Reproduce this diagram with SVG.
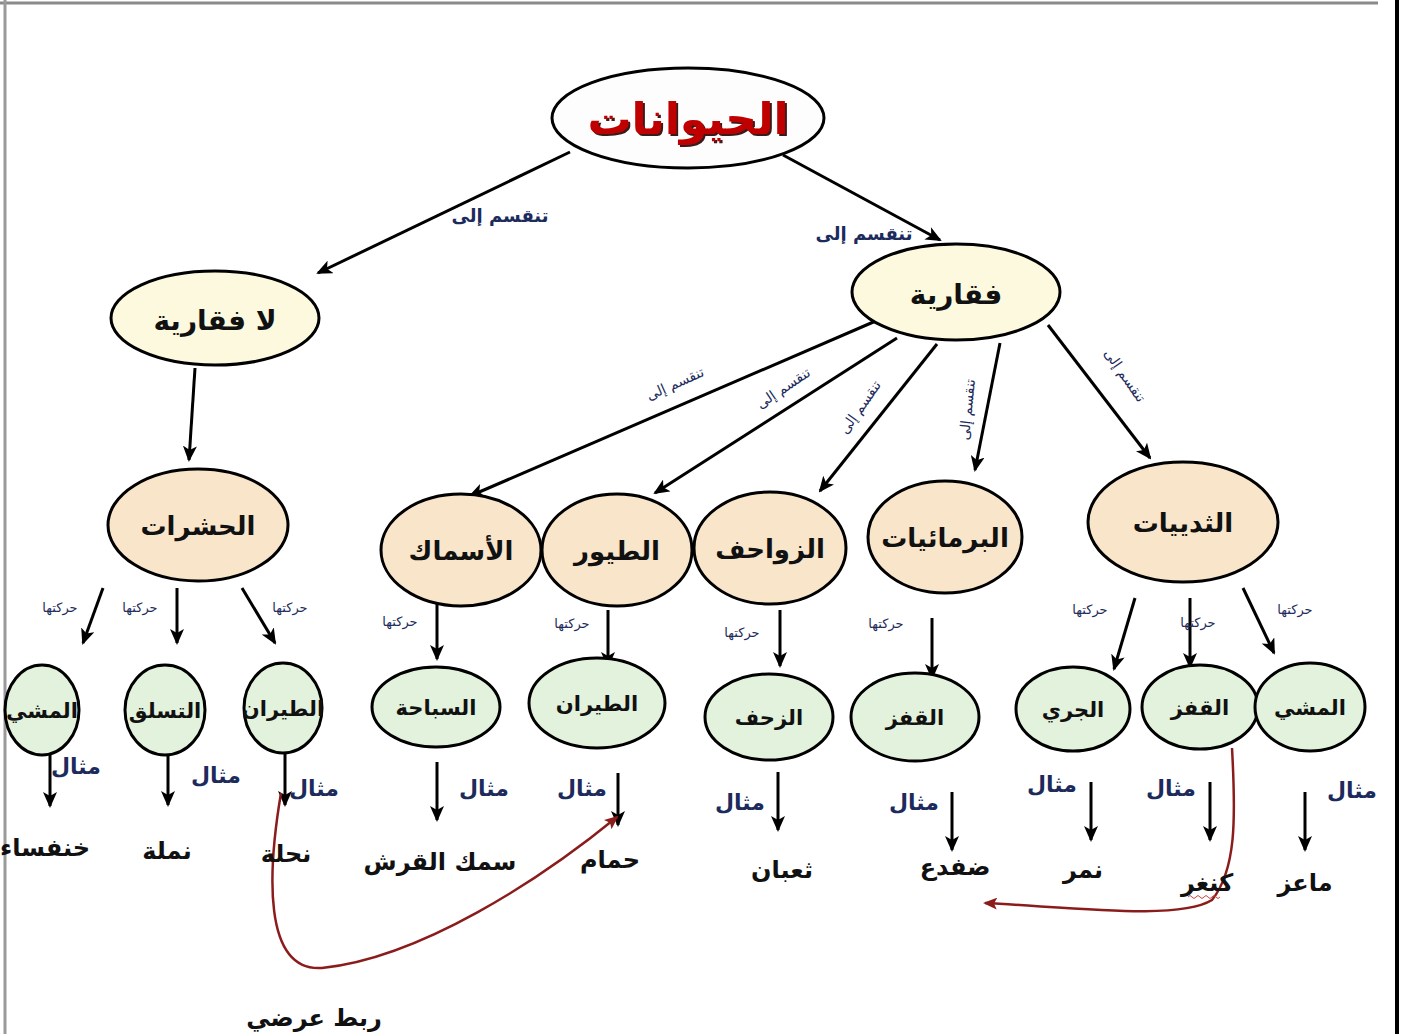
<svg xmlns="http://www.w3.org/2000/svg" width="1402" height="1034" viewBox="0 0 1402 1034">
<defs>
<marker id="ah" markerUnits="userSpaceOnUse" markerWidth="16" markerHeight="14" refX="14" refY="7" orient="auto">
<path d="M0,0 L16,7 L0,14 L4,7 z" fill="#000"/>
</marker>
<marker id="ahr" markerUnits="userSpaceOnUse" markerWidth="14" markerHeight="12" refX="12" refY="6" orient="auto">
<path d="M0,0 L14,6 L0,12 L3,6 z" fill="#8b1c1c"/>
</marker>
<filter id="shadow" x="-10%" y="-20%" width="130%" height="150%">
<feDropShadow dx="2" dy="2" stdDeviation="0.6" flood-color="#2a0000" flood-opacity="0.9"/>
</filter>
</defs>
<style>
text{font-family:"DejaVu Sans","Noto Sans",sans-serif;text-anchor:middle;font-weight:bold}
.node{stroke:#000;stroke-width:3}
.root{fill:#fdfdfd}
.cream{fill:#fcf9df}
.peach{fill:#f8e5ca}
.green{fill:#e3f2dc}
.t1{font-size:28px;fill:#111}
.t2{font-size:26px;fill:#111}
.tm{font-size:21px;fill:#111}
.ex{font-size:24px;fill:#111}
.lbl{font-size:18px;fill:#1c2b5c;font-weight:bold}
.lbs{font-size:14px;fill:#1c2b5c;font-weight:normal}
.hr{font-size:13px;fill:#1c2b5c;font-weight:normal}
.mt{font-size:22px;fill:#1c2b5c}
.ar{stroke:#000;stroke-width:3;fill:none;marker-end:url(#ah)}
.red{stroke:#8b1c1c;stroke-width:2.5;fill:none;marker-end:url(#ahr)}
</style>
<rect width="1402" height="1034" fill="#fff"/>
<g id="frame">
<line x1="0" y1="3" x2="1378" y2="3" stroke="#8a8a8a" stroke-width="3"/>
<line x1="5" y1="0" x2="5" y2="1034" stroke="#9a9a9a" stroke-width="3"/>
<line x1="1397" y1="0" x2="1397" y2="1034" stroke="#000" stroke-width="4"/>
</g>
<g id="connectors">
<line class="ar" x1="570" y1="152" x2="318" y2="273"/>
<line class="ar" x1="783" y1="155" x2="940" y2="240"/>
<line class="ar" x1="195" y1="368" x2="189" y2="460"/>
<line class="ar" x1="878" y1="320" x2="470" y2="496"/>
<line class="ar" x1="897" y1="338" x2="655" y2="493"/>
<line class="ar" x1="937" y1="344" x2="820" y2="491"/>
<line class="ar" x1="1000" y1="343" x2="975" y2="470"/>
<line class="ar" x1="1048" y1="325" x2="1150" y2="458"/>
<line class="ar" x1="103" y1="588" x2="83" y2="643"/>
<line class="ar" x1="177" y1="588" x2="177" y2="643"/>
<line class="ar" x1="242" y1="588" x2="275" y2="643"/>
<line class="ar" x1="437" y1="604" x2="437" y2="659"/>
<line class="ar" x1="608" y1="610" x2="608" y2="666"/>
<line class="ar" x1="780" y1="610" x2="780" y2="666"/>
<line class="ar" x1="932" y1="618" x2="932" y2="678"/>
<line class="ar" x1="1135" y1="598" x2="1114" y2="669"/>
<line class="ar" x1="1190" y1="598" x2="1190" y2="667"/>
<line class="ar" x1="1243" y1="588" x2="1274" y2="653"/>
<line class="ar" x1="50" y1="747" x2="50" y2="806"/>
<line class="ar" x1="168" y1="752" x2="168" y2="805"/>
<line class="ar" x1="285" y1="752" x2="285" y2="805"/>
<line class="ar" x1="437" y1="762" x2="437" y2="820"/>
<line class="ar" x1="618" y1="773" x2="618" y2="825"/>
<line class="ar" x1="778" y1="772" x2="778" y2="830"/>
<line class="ar" x1="952" y1="792" x2="952" y2="850"/>
<line class="ar" x1="1091" y1="782" x2="1091" y2="840"/>
<line class="ar" x1="1210" y1="782" x2="1210" y2="840"/>
<line class="ar" x1="1305" y1="792" x2="1305" y2="850"/>
<path class="red" d="M281,793 C268,870 262,972 322,968 C420,958 540,880 617,817"/>
<path class="red" d="M1232,748 C1236,820 1236,870 1212,900 C1180,920 1080,908 985,903"/>
<path d="M1188,897 q2,-3 4,0 q2,3 4,0 q2,-3 4,0 q2,3 4,0 q2,-3 4,0 q2,3 4,0 q2,-3 4,0 q2,3 4,0" stroke="#c44" stroke-width="1" fill="none"/>
</g>
<g id="edge-labels">
<text class="lbl" x="500" y="222">تنقسم إلى</text>
<text class="lbl" x="864" y="240">تنقسم إلى</text>
<text class="lbs" transform="translate(677,388) rotate(-24)">تنقسم إلى</text>
<text class="lbs" transform="translate(786,392) rotate(-34)">تنقسم إلى</text>
<text class="lbs" transform="translate(864,410) rotate(-55)">تنقسم إلى</text>
<text class="lbs" transform="translate(972,410) rotate(-84)">تنقسم إلى</text>
<text class="lbs" transform="translate(1121,378) rotate(55)">تنقسم إلى</text>
<text class="hr" x="60" y="612">حركتها</text>
<text class="hr" x="140" y="612">حركتها</text>
<text class="hr" x="290" y="612">حركتها</text>
<text class="hr" x="400" y="626">حركتها</text>
<text class="hr" x="572" y="628">حركتها</text>
<text class="hr" x="742" y="637">حركتها</text>
<text class="hr" x="886" y="628">حركتها</text>
<text class="hr" x="1090" y="614">حركتها</text>
<text class="hr" x="1198" y="627">حركتها</text>
<text class="hr" x="1295" y="614">حركتها</text>
<text class="mt" x="76" y="774">مثال</text>
<text class="mt" x="216" y="783">مثال</text>
<text class="mt" x="314" y="796">مثال</text>
<text class="mt" x="484" y="796">مثال</text>
<text class="mt" x="582" y="796">مثال</text>
<text class="mt" x="740" y="810">مثال</text>
<text class="mt" x="914" y="810">مثال</text>
<text class="mt" x="1052" y="792">مثال</text>
<text class="mt" x="1171" y="796">مثال</text>
<text class="mt" x="1352" y="798">مثال</text>
<text class="ex" x="314" y="1026">ربط عرضي</text>
</g>
<g id="n-animals"><ellipse class="node root" cx="688" cy="118" rx="136" ry="50"/><text x="688" y="134" font-size="44" fill="#c00000" filter="url(#shadow)">الحيوانات</text></g>
<g id="n-invertebrates"><ellipse class="node cream" cx="215" cy="318" rx="104" ry="47"/><text class="t1" x="215" y="330">لا فقارية</text></g>
<g id="n-vertebrates"><ellipse class="node cream" cx="956" cy="292" rx="104" ry="48"/><text class="t1" x="956" y="304">فقارية</text></g>
<g id="n-insects"><ellipse class="node peach" cx="198" cy="525" rx="90" ry="56"/><text class="t2" x="198" y="535">الحشرات</text></g>
<g id="n-fish"><ellipse class="node peach" cx="461" cy="550" rx="80" ry="56"/><text class="t2" x="461" y="560">الأسماك</text></g>
<g id="n-birds"><ellipse class="node peach" cx="617" cy="550" rx="75" ry="56"/><text class="t2" x="617" y="560">الطيور</text></g>
<g id="n-reptiles"><ellipse class="node peach" cx="770" cy="548" rx="76" ry="56"/><text class="t2" x="770" y="558">الزواحف</text></g>
<g id="n-amphibians"><ellipse class="node peach" cx="945" cy="537" rx="77" ry="56"/><text class="t2" x="945" y="547">البرمائيات</text></g>
<g id="n-mammals"><ellipse class="node peach" cx="1183" cy="522" rx="95" ry="60"/><text class="t2" x="1183" y="532">الثدييات</text></g>
<g id="n-ins-walk"><ellipse class="node green" cx="42" cy="710" rx="37" ry="45"/><text class="tm" x="42" y="718">المشي</text></g>
<g id="n-ins-climb"><ellipse class="node green" cx="165" cy="710" rx="40" ry="45"/><text class="tm" x="165" y="718">التسلق</text></g>
<g id="n-ins-fly"><ellipse class="node green" cx="283" cy="708" rx="39" ry="45"/><text class="tm" x="283" y="716">الطيران</text></g>
<g id="n-swim"><ellipse class="node green" cx="436" cy="707" rx="64" ry="40"/><text class="tm" x="436" y="715">السباحة</text></g>
<g id="n-bird-fly"><ellipse class="node green" cx="597" cy="703" rx="68" ry="45"/><text class="tm" x="597" y="711">الطيران</text></g>
<g id="n-crawl"><ellipse class="node green" cx="769" cy="717" rx="64" ry="43"/><text class="tm" x="769" y="725">الزحف</text></g>
<g id="n-amph-jump"><ellipse class="node green" cx="915" cy="717" rx="64" ry="44"/><text class="tm" x="915" y="725">القفز</text></g>
<g id="n-run"><ellipse class="node green" cx="1073" cy="709" rx="57" ry="42"/><text class="tm" x="1073" y="717">الجري</text></g>
<g id="n-mam-jump"><ellipse class="node green" cx="1200" cy="707" rx="58" ry="42"/><text class="tm" x="1200" y="715">القفز</text></g>
<g id="n-mam-walk"><ellipse class="node green" cx="1310" cy="707" rx="55" ry="44"/><text class="tm" x="1310" y="715">المشي</text></g>
<g id="n-beetle"><text class="ex" x="45" y="856">خنفساء</text></g>
<g id="n-ant"><text class="ex" x="167" y="859">نملة</text></g>
<g id="n-bee"><text class="ex" x="286" y="862">نحلة</text></g>
<g id="n-shark"><text class="ex" x="440" y="870">سمك القرش</text></g>
<g id="n-pigeon"><text class="ex" x="610" y="868">حمام</text></g>
<g id="n-snake"><text class="ex" x="782" y="878">ثعبان</text></g>
<g id="n-frog"><text class="ex" x="955" y="875">ضفدع</text></g>
<g id="n-tiger"><text class="ex" x="1083" y="878">نمر</text></g>
<g id="n-kangaroo"><text class="ex" x="1207" y="891">كنغر</text></g>
<g id="n-goat"><text class="ex" x="1305" y="891">ماعز</text></g>
</svg>
